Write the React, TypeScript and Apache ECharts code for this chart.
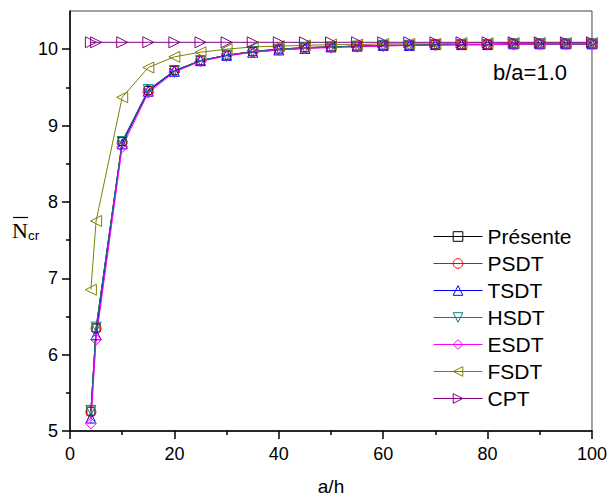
import React, { useEffect, useRef } from "react";
import * as echarts from "echarts";

const xValues = [4, 5, 10, 15, 20, 25, 30, 35, 40, 45, 50, 55, 60, 65, 70, 75, 80, 85, 90, 95, 100];
const presente = [5.26, 6.35, 8.79, 9.46, 9.72, 9.85, 9.92, 9.97, 10.0, 10.02, 10.03, 10.04, 10.05, 10.05, 10.06, 10.06, 10.06, 10.07, 10.07, 10.07, 10.07];
const psdt = [5.25, 6.34, 8.78, 9.46, 9.72, 9.85, 9.92, 9.97, 10.0, 10.02, 10.03, 10.04, 10.05, 10.05, 10.06, 10.06, 10.06, 10.07, 10.07, 10.07, 10.07];
const tsdt = [5.17, 6.26, 8.76, 9.45, 9.71, 9.85, 9.92, 9.96, 9.99, 10.01, 10.03, 10.04, 10.05, 10.05, 10.06, 10.06, 10.06, 10.07, 10.07, 10.07, 10.07];
const hsdt = [5.27, 6.36, 8.79, 9.47, 9.72, 9.85, 9.92, 9.97, 10.0, 10.02, 10.03, 10.04, 10.05, 10.05, 10.06, 10.06, 10.06, 10.07, 10.07, 10.07, 10.07];
const esdt = [5.1, 6.2, 8.72, 9.43, 9.7, 9.84, 9.91, 9.96, 9.99, 10.01, 10.02, 10.03, 10.04, 10.05, 10.05, 10.06, 10.06, 10.06, 10.07, 10.07, 10.07];
const fsdt = [6.85, 7.75, 9.37, 9.76, 9.9, 9.96, 10.0, 10.03, 10.04, 10.05, 10.06, 10.06, 10.07, 10.07, 10.07, 10.08, 10.08, 10.08, 10.08, 10.08, 10.08];
const cpt = [10.09, 10.09, 10.09, 10.09, 10.09, 10.09, 10.09, 10.09, 10.09, 10.09, 10.09, 10.09, 10.09, 10.09, 10.09, 10.09, 10.09, 10.09, 10.09, 10.09, 10.09];

const yMajorTicks = [5, 6, 7, 8, 9, 10];
const yMinorTicks = [5.5, 6.5, 7.5, 8.5, 9.5];

const seriesDefs = [
  { name: "Présente", data: presente, color: "#000000", symbol: "rect", rotate: 0, size: 8 },
  { name: "PSDT", data: psdt, color: "#FF0000", symbol: "circle", rotate: 0, size: 10 },
  { name: "TSDT", data: tsdt, color: "#0000FF", symbol: "triangle", rotate: 0, size: 10 },
  { name: "HSDT", data: hsdt, color: "#008080", symbol: "triangle", rotate: 180, size: 10 },
  { name: "ESDT", data: esdt, color: "#FF00FF", symbol: "diamond", rotate: 0, size: 11 },
  { name: "FSDT", data: fsdt, color: "#808000", symbol: "triangle", rotate: 90, size: 11 },
  { name: "CPT", data: cpt, color: "#800080", symbol: "triangle", rotate: -90, size: 11 },
];

const FONT = "'Liberation Sans', Arial, sans-serif";
const SERIF = "'Liberation Serif', 'Times New Roman', serif";

export default function App() {
  const ref = useRef<HTMLDivElement>(null);
  useEffect(() => {
    if (!ref.current) return;
    const chart = echarts.init(ref.current, null, { renderer: "svg" });
    chart.setOption({
      animation: false,
      backgroundColor: "#ffffff",
      textStyle: { fontFamily: FONT },
      grid: {
        left: 70,
        right: 15,
        top: 11,
        bottom: 70,
        show: true,
        borderColor: "#444",
        borderWidth: 1,
        backgroundColor: "transparent",
      },
      xAxis: {
        type: "value",
        min: 0,
        max: 100,
        interval: 20,
        name: "a/h",
        nameLocation: "middle",
        nameGap: 46,
        nameTextStyle: { fontSize: 19, color: "#000", fontFamily: FONT },
        axisLine: { show: true, lineStyle: { color: "#000", width: 1.5 } },
        axisTick: { show: true, inside: false, length: 8, lineStyle: { color: "#000", width: 1.5 } },
        minorTick: { show: true, splitNumber: 2, length: 4, lineStyle: { color: "#000", width: 1.5 } },
        axisLabel: { fontSize: 18, color: "#000", margin: 14, fontFamily: FONT },
        splitLine: { show: false },
      },
      yAxis: [
        {
          type: "value",
          min: 5,
          max: 10.5,
          interval: 1,
          position: "left",
          axisLine: { show: true, lineStyle: { color: "#000", width: 1.5 } },
          axisTick: { show: true, inside: false, length: 8, customValues: yMajorTicks, lineStyle: { color: "#000", width: 1.5 } },
          axisLabel: { fontSize: 18, color: "#000", margin: 12, customValues: yMajorTicks, fontFamily: FONT },
          splitLine: { show: false },
        },
        {
          type: "value",
          min: 5,
          max: 10.5,
          interval: 1,
          position: "left",
          axisLine: { show: false },
          axisTick: { show: true, inside: false, length: 4, customValues: yMinorTicks, lineStyle: { color: "#000", width: 1.5 } },
          axisLabel: { show: false },
          splitLine: { show: false },
        },
      ],
      legend: {
        orient: "vertical",
        left: 433,
        top: 226,
        padding: 0,
        itemWidth: 49,
        itemHeight: 12,
        itemGap: 6,
        itemStyle: { color: "rgba(255,255,255,0)", borderWidth: 1 },
        lineStyle: { width: 1 },
        textStyle: { fontSize: 21, color: "#000", fontFamily: FONT },
        data: seriesDefs.map((s) => s.name),
      },
      graphic: [
        { type: "text", left: 493, top: 61, style: { text: "b/a=1.0", fill: "#000", font: `22px ${FONT}` } },
        { type: "text", x: 12, y: 219, style: { text: "N", fill: "#000", font: `22px ${SERIF}`, textVerticalAlign: "top" } },
        { type: "line", shape: { x1: 13, y1: 217.5, x2: 28, y2: 217.5 }, style: { stroke: "#000", lineWidth: 1.2 } },
        { type: "text", x: 28, y: 228, style: { text: "cr", fill: "#000", font: `13.5px ${FONT}`, textVerticalAlign: "top" } },
      ],
      series: seriesDefs.map((s) => ({
        name: s.name,
        type: "line",
        data: xValues.map((x, i) => [x, s.data[i]]),
        symbol: s.symbol,
        symbolSize: s.size,
        symbolRotate: s.rotate,
        showAllSymbol: true,
        lineStyle: { color: s.color, width: 1 },
        itemStyle: { color: "rgba(255,255,255,0)", borderColor: s.color, borderWidth: 1 },
        emphasis: { disabled: true },
      })),
    });
    return () => chart.dispose();
  }, []);
  return <div ref={ref} style={{ width: 610, height: 501, position: "absolute", left: 0, top: 0 }} />;
}
